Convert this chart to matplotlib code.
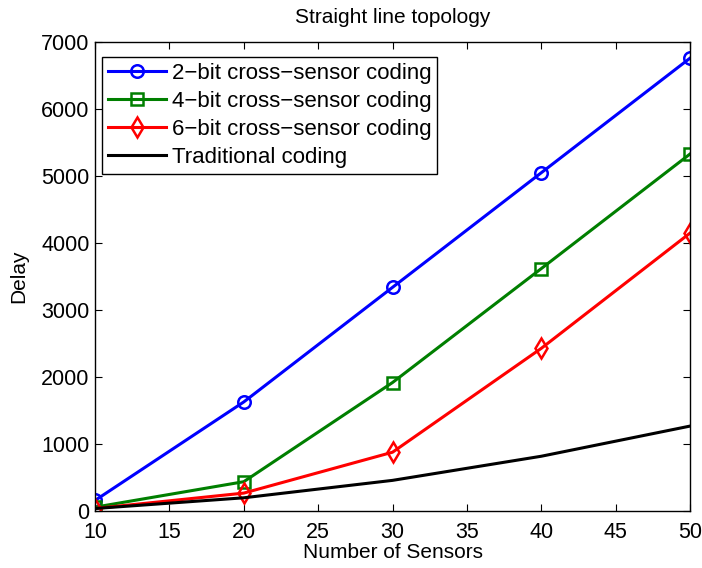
'''
Straight line topology: delay vs number of sensors
'''
import numpy as np
import matplotlib
matplotlib.use('Agg')
import matplotlib.pyplot as plt

plt.rcParams['font.family'] = ['Liberation Sans', 'DejaVu Sans']

sensors   = [10, 20, 30, 40, 50]
delay_2   = [160, 1630, 3340, 5050, 6760]
delay_4   = [60, 440, 1920, 3620, 5330]
delay_6   = [40, 270, 880, 2430, 4150]
delay_trd = [40, 200, 460, 820, 1270]


def main():
    fig = plt.figure(figsize=(7.02, 5.68), dpi=100)
    ax  = fig.add_axes([0.1353, 0.1, 0.8477, 0.826])

    ax.plot(sensors, delay_2, color='#0000ff', lw=2.2, marker='o', ms=9, mfc='none', mew=1.8,
            label=u'2\u2212bit cross\u2212sensor coding')
    ax.plot(sensors, delay_4, color='#007f00', lw=2.2, marker='s', ms=8, mfc='none', mew=1.8,
            label=u'4\u2212bit cross\u2212sensor coding')
    ax.plot(sensors, delay_6, color='#ff0000', lw=2.2, marker='d', ms=10, mfc='none', mew=1.8,
            label=u'6\u2212bit cross\u2212sensor coding')
    ax.plot(sensors, delay_trd, color='k', lw=2.2, label='Traditional coding')

    ax.set_xlim(10, 50)
    ax.set_ylim(0, 7000)
    ax.set_xticks(np.arange(10, 51, 5))
    ax.set_yticks(np.arange(0, 7001, 1000))
    ax.tick_params(direction='in', labelsize=15.5, length=5, top=True, right=True)
    ax.tick_params(axis='x', pad=8)
    ax.tick_params(axis='y', pad=4)
    for sp in ax.spines.values():
        sp.set_linewidth(1.0)

    ax.set_xlabel('Number of Sensors', fontsize=15, labelpad=0)
    ax.set_ylabel('Delay', fontsize=15, labelpad=9)
    ax.set_title('Straight line topology', fontsize=15, pad=14)

    leg = ax.legend(loc='upper left', bbox_to_anchor=(0.0118, 0.968), fontsize=16,
                    fancybox=False, framealpha=1, edgecolor='k', borderaxespad=0,
                    handlelength=2.6, handletextpad=0.25, labelspacing=0.31, borderpad=0.28)
    leg.get_frame().set_linewidth(1.0)

    plt.savefig('out.png', dpi=100)


if __name__ == "__main__":
    main()
